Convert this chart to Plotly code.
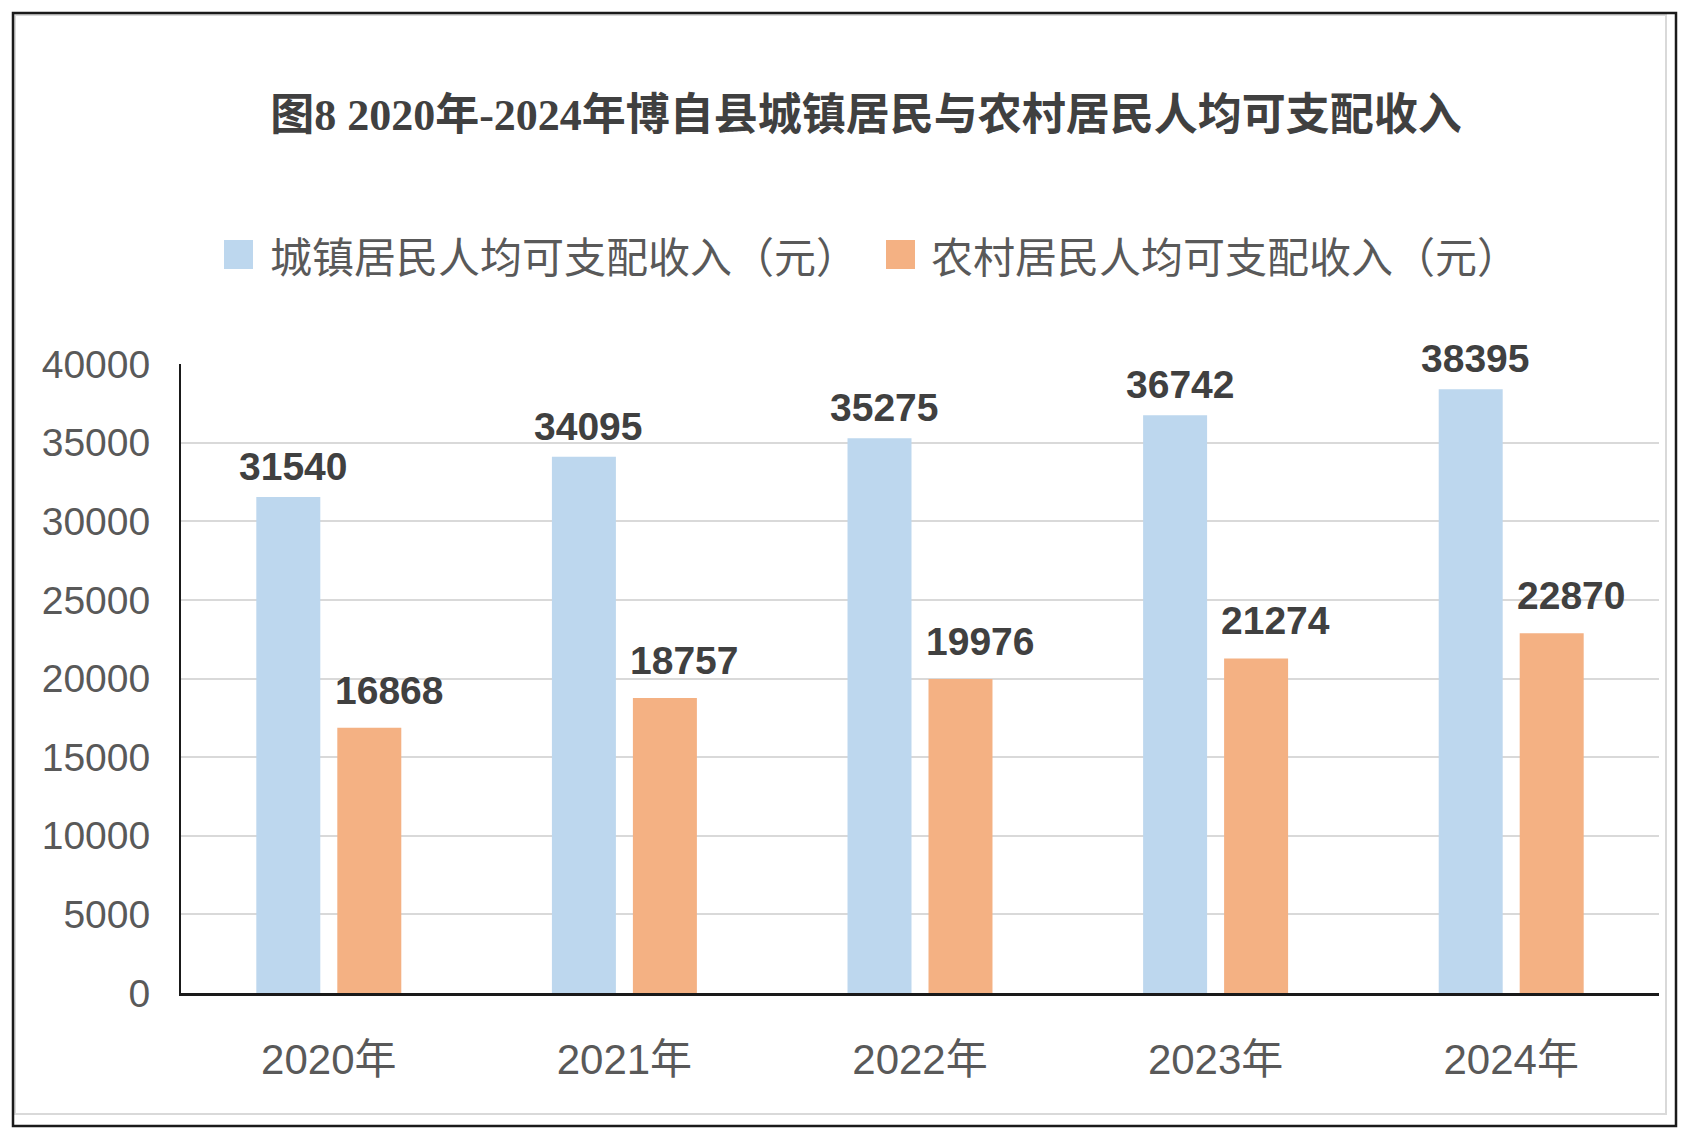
import plotly.graph_objects as go

# data
years = ["2020年", "2021年", "2022年", "2023年", "2024年"]
urban_name = "城镇居民人均可支配收入（元）"
rural_name = "农村居民人均可支配收入（元）"
urban_income = [31540, 34095, 35275, 36742, 38395]
rural_income = [16868, 18757, 19976, 21274, 22870]
y_ticks = [0, 5000, 10000, 15000, 20000, 25000, 30000, 35000, 40000]

title_text = "图8 2020年-2024年博自县城镇居民与农村居民人均可支配收入"

blue = "#BDD7EE"
orange = "#F4B183"
grey_text = "#595959"
dark_text = "#404040"

W, H = 1693, 1146
OFF = 8  # page body margin pushes the figure by this much
L, R, T, B = 181 - OFF, 1659 - OFF, 364 - OFF, 993 - OFF   # plot area in pixels

num_font = "Liberation Sans, Noto Sans CJK SC"
cjk_font = "Noto Sans CJK SC"


def px(x):
    return (x - OFF - L) / (R - L)


def py(y):
    return (B - (y - OFF)) / (B - T)


fig = go.Figure()
fig.add_trace(go.Bar(x=years, y=urban_income, name=urban_name,
                     marker=dict(color=blue, line=dict(width=0))))
fig.add_trace(go.Bar(x=years, y=rural_income, name=rural_name,
                     marker=dict(color=orange, line=dict(width=0))))

# value labels
annotations = []
for yr, v in zip(years, urban_income):
    annotations.append(dict(x=yr, y=v, text=f"<b>{v}</b>", showarrow=False,
                            xshift=-36, yshift=7, yanchor="bottom",
                            font=dict(family=num_font, size=39, color=dark_text)))
for yr, v in zip(years, rural_income):
    annotations.append(dict(x=yr, y=v, text=f"<b>{v}</b>", showarrow=False,
                            xshift=60, yshift=14, yanchor="bottom",
                            font=dict(family=num_font, size=39, color=dark_text)))

# legend drawn by hand so the swatches match the reference size
legend_items = [(blue, urban_name, 224, 268), (orange, rural_name, 886, 929)]
shapes = [
    dict(type="rect", xref="paper", yref="paper",
         x0=px(15), x1=px(1666), y0=py(15), y1=py(1114),
         line=dict(color="#D9D9D9", width=2)),
    dict(type="rect", xref="paper", yref="paper",
         x0=px(13), x1=px(1676), y0=py(13), y1=py(1126),
         line=dict(color="#1a1a1a", width=2.5)),
]
for color, label, sx, tx in legend_items:
    shapes.append(dict(type="rect", xref="paper", yref="paper",
                       x0=px(sx), x1=px(sx + 29), y0=py(240), y1=py(269),
                       fillcolor=color, line=dict(width=0)))
    annotations.append(dict(x=px(tx), y=py(254), xref="paper", yref="paper",
                            text=label, showarrow=False, xanchor="left", yanchor="middle",
                            font=dict(family=cjk_font, size=42, color=grey_text)))

fig.update_layout(
    width=W, height=H,
    margin=dict(l=L, r=W - R, t=T, b=H - B, pad=0),
    paper_bgcolor="white", plot_bgcolor="white",
    showlegend=False,
    barmode="group", bargap=0.452, bargroupgap=0.21,
    title=dict(text=f"<b>{title_text}</b>", x=(866 - OFF) / W, xanchor="center",
               y=1 - (115 - OFF) / H, yanchor="middle", xref="container", yref="container",
               font=dict(family="Liberation Serif, Noto Sans CJK SC", size=44, color=dark_text)),
    xaxis=dict(showline=True, linecolor="#1a1a1a", linewidth=2.5, showgrid=False,
               ticks="", ticklabelstandoff=28,
               tickfont=dict(family=num_font, size=42, color=grey_text)),
    yaxis=dict(range=[0, 40000], tickvals=y_ticks, tickformat="d",
               showline=True, linecolor="#1a1a1a", linewidth=2,
               showgrid=True, gridcolor="#D9D9D9", gridwidth=2, zeroline=False,
               ticks="", ticklabelstandoff=21,
               tickfont=dict(family=num_font, size=39, color=grey_text)),
    annotations=annotations,
    shapes=shapes,
)

fig.write_html("out.html")
